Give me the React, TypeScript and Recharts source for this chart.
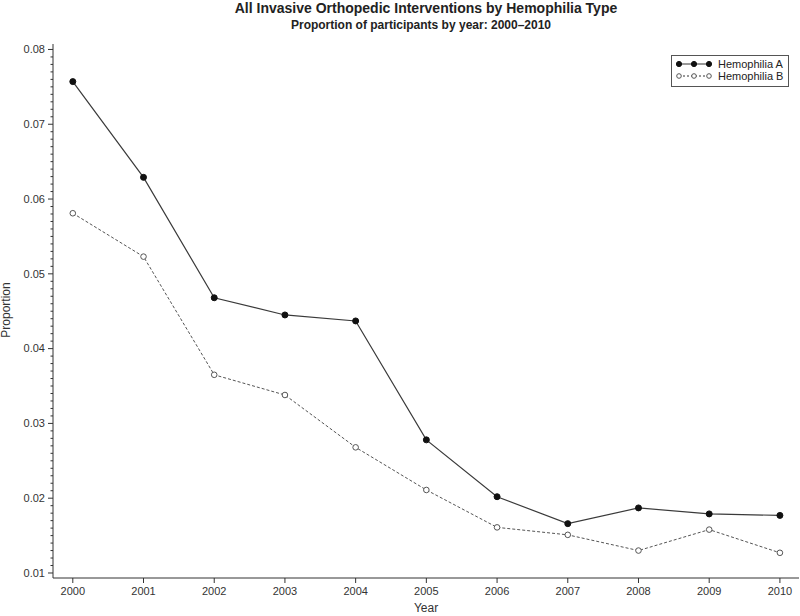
import { LineChart, Line, XAxis, YAxis } from 'recharts';

const years = [2000, 2001, 2002, 2003, 2004, 2005, 2006, 2007, 2008, 2009, 2010];
const hemophiliaA = [0.0757, 0.0629, 0.0468, 0.0445, 0.0437, 0.0278, 0.0202, 0.0166, 0.0187, 0.0179, 0.0177];
const hemophiliaB = [0.0581, 0.0523, 0.0365, 0.0338, 0.0268, 0.0211, 0.0161, 0.0151, 0.0130, 0.0158, 0.0127];
const majorYTicks = [0.01, 0.02, 0.03, 0.04, 0.05, 0.06, 0.07, 0.08];
const seriesNames = ['Hemophilia A', 'Hemophilia B'];

// minor ticks every 0.001 between the labelled ones
const yTicks = Array.from({ length: 71 }, (_, i) => Math.round((0.01 + i * 0.001) * 1000) / 1000);

const data = years.map((year, i) => ({
  year,
  a: hemophiliaA[i],
  b: hemophiliaB[i],
}));

const FONT = 'Arial, "Liberation Sans", sans-serif';
const INK = '#333';

const YTick = ({ x, y, payload }: any) => {
  const v = payload.value;
  const major = majorYTicks.some((m) => Math.abs(m - v) < 1e-7);
  return (
    <g>
      <line x1={x - (major ? 5 : 2.5)} x2={x} y1={y} y2={y} stroke={INK} strokeWidth={1} />
      {major && (
        <text x={x - 8} y={y} dy="0.35em" textAnchor="end" fontSize={11} fill={INK} fontFamily={FONT}>
          {v.toFixed(2)}
        </text>
      )}
    </g>
  );
};

const LegendIcon = ({ hollow }: { hollow: boolean }) => (
  <svg width={38} height={8} style={{ display: 'block' }}>
    <line x1={4} x2={34} y1={4} y2={4} stroke={INK} strokeDasharray={hollow ? '2 2' : undefined} />
    {[4, 19, 34].map((cx) => (
      <circle key={cx} cx={cx} cy={4} r={hollow ? 2.3 : 2.6} fill={hollow ? '#fff' : '#111'} stroke={hollow ? '#555' : '#111'} />
    ))}
  </svg>
);

export default function App() {
  return (
    <div style={{ position: 'absolute', left: 0, top: 0, width: 800, height: 616, fontFamily: FONT, background: '#fff' }}>
      <div style={{ position: 'absolute', left: 0, width: 852, top: 0, textAlign: 'center', fontWeight: 'bold', fontSize: 14, color: '#222' }}>
        All Invasive Orthopedic Interventions by Hemophilia Type
      </div>
      <div style={{ position: 'absolute', left: 0, width: 842, top: 18, textAlign: 'center', fontWeight: 'bold', fontSize: 12, color: '#222' }}>
        Proportion of participants by year: 2000–2010
      </div>
      <div
        style={{
          position: 'absolute',
          left: -24,
          top: 303,
          width: 60,
          textAlign: 'center',
          fontSize: 12,
          color: INK,
          transform: 'rotate(-90deg)',
        }}
      >
        Proportion
      </div>

      <LineChart width={800} height={616} data={data} margin={{ top: 44, right: 1, left: 0, bottom: 0 }}>
        <XAxis
          dataKey="year"
          type="number"
          domain={[1999.72, 2010.27]}
          ticks={years}
          interval={0}
          height={38}
          tickSize={5}
          tickMargin={4}
          tick={{ fontSize: 11, fill: INK, fontFamily: FONT }}
          stroke={INK}
          label={{ value: 'Year', position: 'insideBottom', offset: 4, fontSize: 12, fill: INK, fontFamily: FONT }}
        />
        <XAxis
          xAxisId="top"
          orientation="top"
          type="number"
          domain={[1999.72, 2010.27]}
          height={0}
          tick={false}
          tickLine={false}
          stroke={INK}
        />
        <YAxis
          type="number"
          domain={[0.00933, 0.08073]}
          ticks={yTicks}
          interval={0}
          width={53}
          tickSize={0}
          tickMargin={0}
          tickLine={false}
          tick={<YTick />}
          stroke={INK}
        />
        <YAxis
          yAxisId="right"
          orientation="right"
          type="number"
          domain={[0.00933, 0.08073]}
          width={0}
          tick={false}
          tickLine={false}
          stroke={INK}
        />
        <Line
          dataKey="a"
          name={seriesNames[0]}
          stroke="#3a3a3a"
          strokeWidth={1.2}
          dot={{ r: 3, fill: '#111', stroke: '#111', strokeWidth: 1 }}
          isAnimationActive={false}
        />
        <Line
          dataKey="b"
          name={seriesNames[1]}
          stroke="#555"
          strokeWidth={1}
          strokeDasharray="3 2"
          dot={{ r: 2.8, fill: '#fff', stroke: '#555', strokeWidth: 1, strokeDasharray: '' }}
          isAnimationActive={false}
        />
      </LineChart>

      <div
        style={{
          position: 'absolute',
          left: 671,
          top: 55,
          width: 118,
          height: 32,
          border: '1px solid #555',
          boxSizing: 'border-box',
          padding: '2px 0 0 3px',
          fontSize: 11,
          color: '#222',
          lineHeight: '12px',
        }}
      >
        {seriesNames.map((name, i) => (
          <div key={name} style={{ display: 'flex', alignItems: 'center', gap: 5, height: 12 }}>
            <LegendIcon hollow={i === 1} />
            <span>{name}</span>
          </div>
        ))}
      </div>
    </div>
  );
}
